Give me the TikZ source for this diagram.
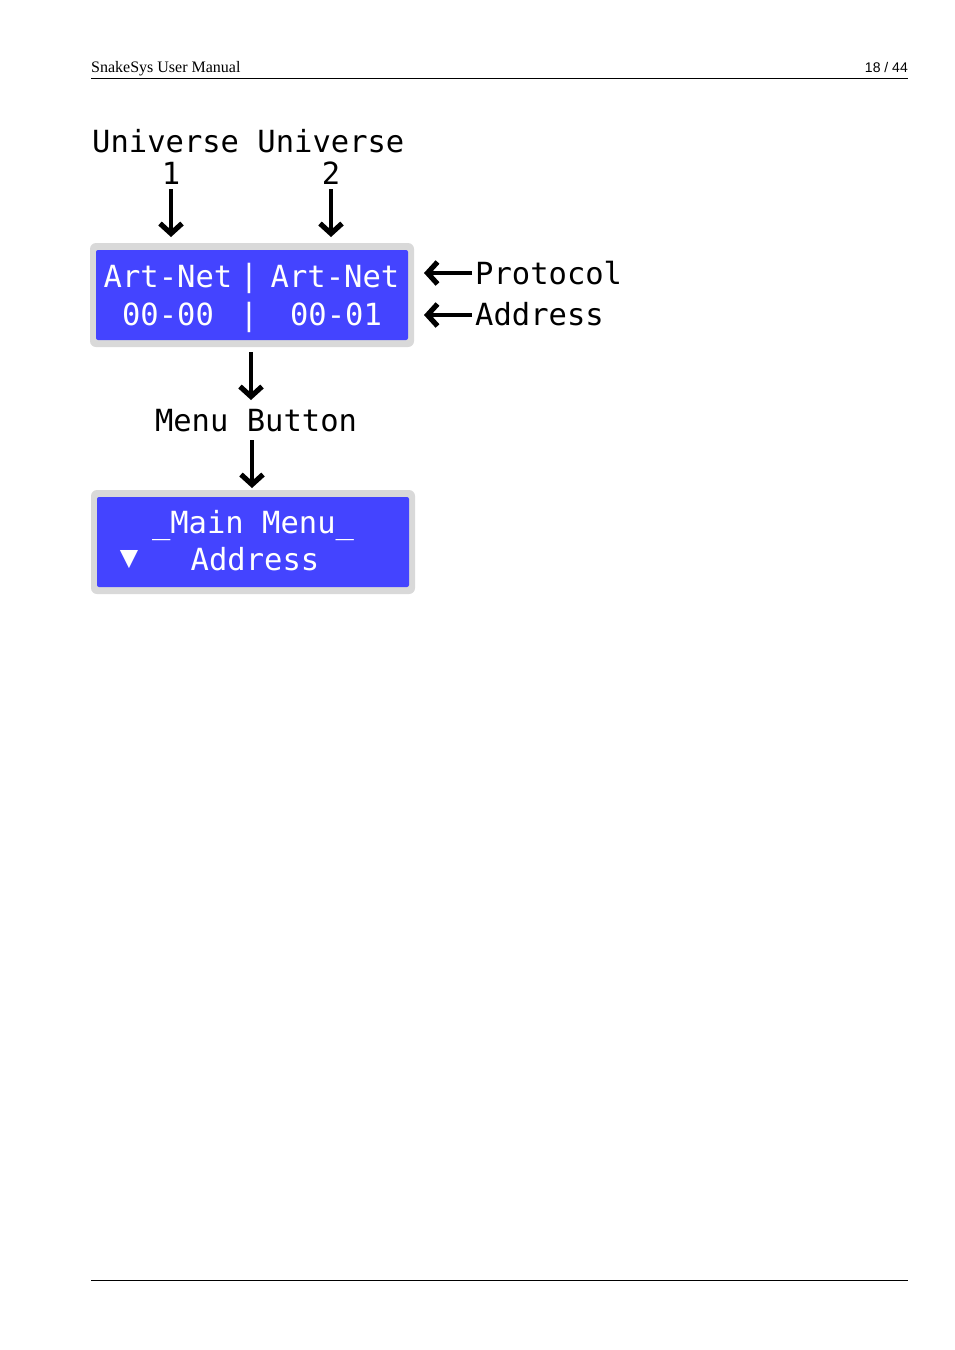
\documentclass[tikz,border=0pt]{standalone}
\usepackage{fontspec}
\setmainfont{Liberation Serif}
\newfontfamily\lcdfont{DejaVu Sans Mono}
\newfontfamily\hdrsans{Liberation Sans}
\usetikzlibrary{arrows.meta}
\definecolor{lcdblue}{HTML}{4444FF}
\definecolor{lcdgray}{HTML}{D9D9D9}
\begin{document}
\begin{tikzpicture}[x=1pt,y=-1pt,
  lbl/.style={font=\lcdfont\fontsize{30.5}{30.5}\selectfont, inner sep=0pt, anchor=base, text=black},
  lcdtxt/.style={font=\lcdfont\fontsize{30.5}{30.5}\selectfont, inner sep=0pt, anchor=base, text=white},
  bigarrow/.style={line width=4pt, -{Straight Barb[length=10pt,width=22pt,line width=0pt 1.3 1]}},
  hdr/.style={inner sep=0pt, anchor=base west, font=\fontsize{16}{16}\selectfont}]
\useasboundingbox (0,0) rectangle (954,1350);
\fill[white] (0,0) rectangle (954,1350);
% header
\node[hdr] (title) at (91,72) {SnakeSys User Manual};
\node[inner sep=0pt, anchor=base east, font=\hdrsans\fontsize{14}{14}\selectfont] (page) at (908,72) {18 / 44};
\draw[line width=0.8pt] (91,78.5) coordinate (hl) -- (908,78.5) coordinate (hr);
\draw[line width=0.8pt] (91,1280.5) coordinate (fl) -- (908,1280.5) coordinate (fr);
% labels
\node[lbl, anchor=base west] (univ) at (92,152) {Universe Universe};
\node[lbl] (one) at (171,184) {1};
\node[lbl] (two) at (331,184) {2};
% LCD 1
\fill[lcdgray, rounded corners=6pt] (90,243) rectangle (414,347);
\fill[lcdblue, rounded corners=2pt] (96,250) rectangle (408,340);
\node[lcdtxt] (an1) at (168,287) {Art-Net};
\node[lcdtxt] (bar1) at (249,286) {|};
\node[lcdtxt] (an2) at (335,287) {Art-Net};
\node[lcdtxt] (ad1) at (168,325) {00-00};
\node[lcdtxt] (bar2) at (249,325) {|};
\node[lcdtxt] (ad2) at (336,325) {00-01};
% right labels
\node[lbl, anchor=base west] (proto) at (475,284) {Protocol};
\node[lbl, anchor=base west] (addr) at (475,325) {Address};
\coordinate (pa) at (472,273);
\coordinate (pb) at (424,273);
\coordinate (qa) at (472,315);
\coordinate (qb) at (424,315);
% menu button
\node[lbl] (menu) at (256,431) {Menu Button};
% LCD 2
\fill[lcdgray, rounded corners=6pt] (91,490) rectangle (415,594);
\fill[lcdblue, rounded corners=2pt] (97,497) rectangle (409,587);
\node[lcdtxt] (mm) at (253,533) {\_Main Menu\_};
\node[lcdtxt] (tri) at (129,567) {▼};
\node[lcdtxt] (maddr) at (255,570) {Address};
% arrows
\coordinate (u1a) at (171,189);
\coordinate (u1b) at (171,237);
\coordinate (u2a) at (331,189);
\coordinate (u2b) at (331,237);
\coordinate (m1a) at (251,352);
\coordinate (m1b) at (251,400);
\coordinate (m2a) at (252,440);
\coordinate (m2b) at (252,488);
\draw[bigarrow] (u1a) -- (u1b);
\draw[bigarrow] (u2a) -- (u2b);
\draw[bigarrow] (pa) -- (pb);
\draw[bigarrow] (qa) -- (qb);
\draw[bigarrow] (m1a) -- (m1b);
\draw[bigarrow] (m2a) -- (m2b);
\end{tikzpicture}
\end{document}
